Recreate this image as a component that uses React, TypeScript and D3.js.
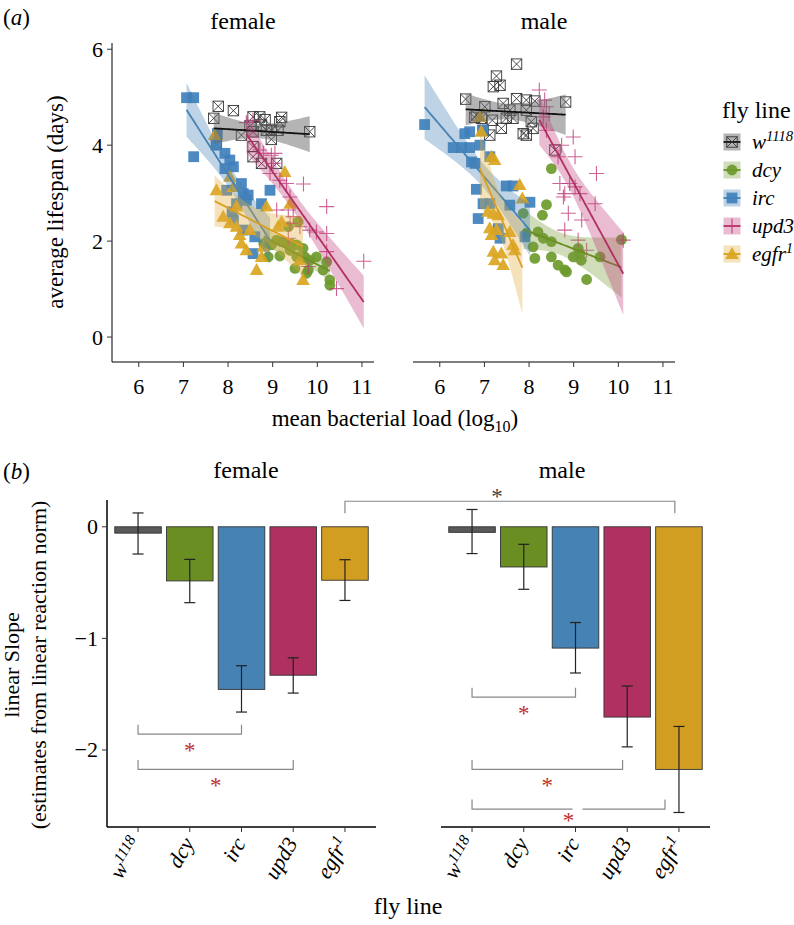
import React from "react";
import * as d3 from "d3";

const FONT = "Liberation Serif, DejaVu Serif, Noto Serif, serif";

// ---------- categories ----------
const flyLines = ["w1118", "dcy", "irc", "upd3", "egfr1"];

// ---------- panel (a): mean bacterial load (log10) vs average lifespan (days) ----------
const femaleW1118: [number, number][] = [
  [7.78, 4.81], [8.12, 4.72], [7.68, 4.56], [7.74, 4.02], [8.3, 4.21], [8.56, 4.59], [8.71, 4.59],
  [8.83, 4.53], [8.75, 4.42], [8.49, 4.4], [9.2, 4.58], [9.16, 4.49], [9.12, 4.31], [8.97, 4.31],
  [8.86, 4.31], [8.97, 4.12], [8.56, 3.97], [8.56, 3.76], [8.75, 3.62], [9.09, 3.62], [9.83, 4.28],
  [8.56, 4.28],
];
const femaleDcy: [number, number][] = [
  [8.8, 1.95], [8.9, 1.67], [9.16, 1.69], [9.2, 1.99], [9.31, 1.95], [9.42, 1.94], [9.54, 1.92],
  [9.57, 2.4], [9.68, 1.85], [9.54, 1.67], [9.72, 1.67], [9.83, 1.6], [9.98, 1.67], [9.5, 1.43],
  [9.76, 1.33], [10.28, 1.19], [10.28, 1.08], [10.13, 1.4], [10.21, 1.57], [9.35, 2.3], [9.09, 2.02],
  [8.97, 1.92], [9.8, 1.4], [9.39, 1.81],
];
const femaleIrc: [number, number][] = [
  [7.07, 4.99], [7.23, 4.99], [7.23, 3.76], [7.76, 4.24], [7.74, 4.0], [7.93, 3.83], [8.04, 3.69],
  [8.12, 3.55], [7.93, 3.51], [8.3, 3.2], [8.34, 2.99], [8.45, 2.96], [8.94, 3.06], [8.75, 2.78],
  [7.97, 3.06], [8.09, 2.61], [8.12, 2.44], [8.34, 2.23], [8.6, 2.09], [8.56, 1.74], [8.41, 2.85],
  [8.19, 2.78],
];
const femaleUpd3: [number, number][] = [
  [8.41, 4.47], [8.56, 4.52], [8.71, 3.9], [8.79, 3.83], [8.97, 3.79], [9.05, 3.83], [9.01, 3.62],
  [8.94, 3.41], [9.16, 3.27], [9.31, 3.2], [9.69, 3.19], [9.39, 2.92], [9.09, 2.65], [9.35, 2.65],
  [9.46, 2.51], [9.39, 2.37], [9.61, 2.3], [9.83, 2.23], [9.98, 2.19], [10.21, 2.16], [10.21, 2.72],
  [9.8, 1.47], [10.21, 1.78], [10.43, 1.01], [11.04, 1.58], [9.35, 2.06],
];
const femaleEgfr1: [number, number][] = [
  [7.7, 4.21], [9.27, 3.44], [7.74, 3.06], [8.04, 3.34], [8.12, 3.13], [7.89, 2.51], [8.04, 2.37],
  [8.19, 2.3], [8.3, 1.95], [8.41, 1.81], [8.26, 2.13], [8.64, 1.4], [8.75, 1.67], [8.86, 2.72],
  [9.12, 2.3], [9.2, 2.4], [9.39, 2.78], [9.68, 1.19], [9.61, 1.6], [8.79, 1.88], [8.49, 2.23],
  [8.19, 2.72],
];

const maleW1118: [number, number][] = [
  [7.72, 5.69], [7.27, 5.44], [7.35, 5.25], [7.2, 5.22], [6.58, 4.96], [7.01, 4.8], [6.82, 4.63],
  [6.93, 4.56], [6.78, 4.58], [6.97, 4.31], [7.12, 4.21], [7.18, 4.52], [7.42, 4.87], [7.49, 4.56],
  [7.57, 4.73], [7.72, 4.97], [7.94, 4.94], [8.13, 4.92], [7.94, 4.73], [7.38, 4.35], [8.05, 4.49],
  [8.09, 4.35], [7.94, 4.21], [7.87, 4.24], [8.58, 3.9], [8.82, 4.9], [7.64, 4.56],
];
const maleDcy: [number, number][] = [
  [8.5, 3.51], [8.39, 2.76], [8.3, 2.54], [7.87, 2.58], [7.94, 2.16], [8.2, 2.19], [8.32, 2.06],
  [8.5, 1.99], [8.09, 1.88], [8.13, 1.64], [8.5, 1.67], [8.65, 1.5], [8.8, 1.4], [8.84, 1.36],
  [8.99, 1.67], [9.1, 1.85], [9.17, 1.6], [9.29, 1.2], [9.59, 1.67], [10.07, 2.03], [9.14, 1.74],
];
const maleIrc: [number, number][] = [
  [5.66, 4.43], [6.56, 4.24], [6.67, 4.28], [6.97, 4.31], [6.3, 3.95], [6.49, 3.95], [6.67, 3.95],
  [6.9, 4.0], [6.71, 3.65], [6.79, 3.62], [7.12, 3.76], [6.82, 3.08], [7.49, 3.15], [7.64, 3.15],
  [6.97, 2.78], [7.12, 2.78], [7.57, 2.75], [8.02, 2.81], [6.86, 2.47], [7.31, 2.26], [7.35, 2.06],
  [7.91, 2.09],
];
const maleUpd3: [number, number][] = [
  [8.23, 5.15], [8.35, 4.94], [8.39, 4.8], [8.45, 4.66], [8.32, 4.59], [8.39, 4.31], [8.99, 4.17],
  [8.73, 4.0], [8.65, 3.76], [9.03, 3.76], [9.51, 3.41], [8.69, 3.2], [8.91, 3.2], [9.03, 3.13],
  [8.77, 2.92], [8.8, 2.99], [9.14, 2.99], [9.48, 2.78], [8.88, 2.58], [9.18, 2.44], [8.8, 2.23],
  [9.1, 2.02], [9.29, 1.81], [10.11, 2.02],
];
const maleEgfr1: [number, number][] = [
  [6.9, 4.59], [6.93, 4.28], [7.16, 3.76], [7.23, 3.69], [7.79, 3.17], [7.85, 2.89], [7.08, 2.61],
  [7.2, 2.57], [7.31, 2.54], [7.12, 2.27], [7.27, 2.23], [7.16, 2.13], [7.57, 2.19], [7.64, 1.92],
  [7.68, 1.81], [7.2, 1.78], [7.38, 1.74], [7.42, 1.5], [7.23, 1.6],
];

const xTicksA = [6, 7, 8, 9, 10, 11];
const yTicksA = [0, 2, 4, 6];

// ---------- panel (b): linear slope estimates (also the slopes of the reaction norms in (a)) ----------
const femaleSlope = [-0.057, -0.485, -1.457, -1.33, -0.479];
const femaleLower = [-0.244, -0.68, -1.66, -1.49, -0.66];
const femaleUpper = [0.124, -0.292, -1.245, -1.174, -0.295];
const maleSlope = [-0.05, -0.36, -1.087, -1.705, -2.174];
const maleLower = [-0.24, -0.56, -1.31, -1.972, -2.56];
const maleUpper = [0.155, -0.157, -0.858, -1.427, -1.789];
const yTicksB = [0, -1, -2];

// significance brackets (categories, bracket level on the slope axis)
const femaleBrackets = [
  { from: "w1118", to: "irc", level: -1.858, toShift: 0 },
  { from: "w1118", to: "upd3", level: -2.174, toShift: 0 },
];
const maleBrackets = [
  { from: "w1118", to: "irc", level: -1.527, toShift: 0 },
  { from: "w1118", to: "upd3", level: -2.174, toShift: -0.09 },
  { from: "w1118", to: "egfr1", level: -2.529, toShift: -0.27 },
];
const crossBracket = { level: 0.229, tip: 0.122, maleShift: -0.08 };

// ---------- styles ----------
const pointColors = ["#333333", "#6B9A2B", "#3F80BD", "#C23B7C", "#DAA520"];
const lineColors = ["#111111", "#6B8E23", "#4682B4", "#B03060", "#D9A021"];
const bandColors = ["#6a6a6a", "#7a9a3a", "#4682B4", "#C0407A", "#E3AC3A"];
const bandOpacity = [0.5, 0.35, 0.35, 0.35, 0.35];
const barColors = ["#595959", "#6B8E23", "#4682B4", "#B03060", "#D19E22"];

// ---------- helpers ----------
function tQuant(df: number) {
  const z = 1.959964;
  return (
    z +
    (z ** 3 + z) / (4 * df) +
    (5 * z ** 5 + 16 * z ** 3 + 3 * z) / (96 * df * df) +
    (3 * z ** 7 + 19 * z ** 5 + 17 * z ** 3 - 15 * z) / (384 * df ** 3)
  );
}

// linear reaction norm through the group centroid with the estimated slope, with a 95% band
function normFit(pts: [number, number][], b: number) {
  const n = pts.length;
  const xbar = d3.mean(pts, (p) => p[0]) as number;
  const ybar = d3.mean(pts, (p) => p[1]) as number;
  let sxx = 0;
  for (const [x] of pts) sxx += (x - xbar) ** 2;
  const a = ybar - b * xbar;
  let sse = 0;
  for (const [x, y] of pts) sse += (y - (a + b * x)) ** 2;
  const s = Math.sqrt(sse / (n - 2));
  const t = tQuant(n - 2);
  const [x0, x1] = d3.extent(pts, (p) => p[0]) as [number, number];
  return d3.range(0, 81).map((i) => {
    const x = x0 + ((x1 - x0) * i) / 80;
    const yh = a + b * x;
    const se = s * Math.sqrt(1 / n + (x - xbar) ** 2 / sxx);
    return { x, y: yh, lo: yh - t * se, hi: yh + t * se };
  });
}

function Marker({ kind, x, y, legend }: { kind: number; x: number; y: number; legend?: boolean }) {
  const c = pointColors[kind];
  if (kind === 0)
    return (
      <g stroke={c} strokeWidth={0.9} fill="none">
        <rect x={x - 5.2} y={y - 5.2} width={10.4} height={10.4} />
        <path d={`M${x - 5.2},${y - 5.2}L${x + 5.2},${y + 5.2}M${x + 5.2},${y - 5.2}L${x - 5.2},${y + 5.2}`} />
      </g>
    );
  if (kind === 1) return <circle cx={x} cy={y} r={5.4} fill={c} opacity={0.92} />;
  if (kind === 2) return <rect x={x - 5.4} y={y - 5.4} width={10.8} height={10.8} fill={c} opacity={0.92} />;
  if (kind === 3)
    return (
      <path d={`M${x - 7.5},${y}H${x + 7.5}M${x},${y - 7.5}V${y + 7.5}`} stroke={c} strokeWidth={1.1} opacity={legend ? 1 : 0.8} />
    );
  return <path d={`M${x},${y - 7}L${x + 6.8},${y + 5}L${x - 6.8},${y + 5}Z`} fill={c} opacity={0.92} />;
}

function FlyLabel({ name, sup }: { name: string; sup: number }) {
  if (name === "w1118")
    return (
      <>
        <tspan>w</tspan>
        <tspan dy={-sup} fontSize="0.7em">1118</tspan>
      </>
    );
  if (name === "egfr1")
    return (
      <>
        <tspan>egfr</tspan>
        <tspan dy={-sup} fontSize="0.7em">1</tspan>
      </>
    );
  return <tspan>{name}</tspan>;
}

// ---------- panel (a) ----------
const xDomainA: [number, number] = [5.4, 11.27];
const yA = d3.scaleLinear().domain([-0.52, 6.13]).range([362, 43]);

function ScatterPanel({ data, slopes, x0, x1, showY, title }: { data: [number, number][][]; slopes: number[]; x0: number; x1: number; showY: boolean; title: string }) {
  const x = d3.scaleLinear().domain(xDomainA).range([x0, x1]);
  const fits = data.map((d, i) => normFit(d, slopes[i]));
  const area = d3
    .area<{ x: number; lo: number; hi: number }>()
    .x((d) => x(d.x))
    .y0((d) => yA(d.lo))
    .y1((d) => yA(d.hi));
  const line = d3
    .line<{ x: number; y: number }>()
    .x((d) => x(d.x))
    .y((d) => yA(d.y));
  return (
    <g>
      <text x={(x0 + x1) / 2} y={29} textAnchor="middle" fontSize={24}>{title}</text>
      {data.map((grp, gi) => (
        <g key={"p" + gi}>
          {grp.map((p, i) => (
            <Marker key={i} kind={gi} x={x(p[0])} y={yA(p[1])} />
          ))}
        </g>
      ))}
      {fits.map((f, gi) => (
        <g key={"f" + gi}>
          <path d={area(f) || ""} fill={bandColors[gi]} opacity={bandOpacity[gi]} />
          <path d={line(f) || ""} fill="none" stroke={lineColors[gi]} strokeWidth={1.8} />
        </g>
      ))}
      {showY && (
        <g>
          <line x1={x0} x2={x0} y1={43} y2={362} stroke="#000" strokeWidth={1} />
          {yTicksA.map((t) => (
            <g key={t}>
              <line x1={x0 - 5} x2={x0} y1={yA(t)} y2={yA(t)} stroke="#333" />
              <text x={x0 - 9} y={yA(t) + 7.5} textAnchor="end" fontSize={22}>{t}</text>
            </g>
          ))}
        </g>
      )}
      <line x1={x0} x2={x1} y1={362} y2={362} stroke="#000" strokeWidth={1} />
      {xTicksA.map((t) => (
        <g key={t}>
          <line x1={x(t)} x2={x(t)} y1={362} y2={367} stroke="#333" />
          <text x={x(t)} y={394} textAnchor="middle" fontSize={22}>{t}</text>
        </g>
      ))}
    </g>
  );
}

// ---------- panel (b) ----------
const yB = d3.scaleLinear().domain([-2.69, 0.24]).range([827, 500]);

function BarPanel({ slope, lower, upper, x0, x1, showY, title, titleX, brackets, gapAt }: any) {
  const band = d3.scaleBand<string>().domain(flyLines).range([x0, x1]).paddingInner(0.1).paddingOuter(0.15);
  const cx = (k: string) => (band(k) as number) + band.bandwidth() / 2;
  const step = band.step();
  return (
    <g>
      <text x={titleX} y={478} textAnchor="middle" fontSize={24}>{title}</text>
      {flyLines.map((k, i) => {
        const top = Math.min(yB(0), yB(slope[i]));
        const h = Math.abs(yB(slope[i]) - yB(0));
        return (
          <rect key={k} x={band(k)} y={top} width={band.bandwidth()} height={h} fill={barColors[i]} stroke="#333" strokeWidth={0.9} />
        );
      })}
      {flyLines.map((k, i) => (
        <g key={"e" + k} stroke="#222" strokeWidth={1.2}>
          <line x1={cx(k)} x2={cx(k)} y1={yB(upper[i])} y2={yB(lower[i])} />
          <line x1={cx(k) - 5.5} x2={cx(k) + 5.5} y1={yB(upper[i])} y2={yB(upper[i])} />
          <line x1={cx(k) - 5.5} x2={cx(k) + 5.5} y1={yB(lower[i])} y2={yB(lower[i])} />
        </g>
      ))}
      {brackets.map((b: any, i: number) => {
        const xa = cx(b.from);
        const xb = cx(b.to) + b.toShift * step;
        const yl = yB(b.level);
        const yt = yB(b.level + 0.085);
        const mid = (xa + xb) / 2;
        return (
          <g key={"b" + i}>
            <path d={`M${xa},${yt}V${yl}H${xb}V${yt}`} fill="none" stroke="#888" strokeWidth={1.2} />
            {gapAt === i && <rect x={mid + 4} y={yl - 2} width={10} height={4} fill="#fff" />}
            <text x={mid} y={yl + (gapAt === i ? 19 : 24)} textAnchor="middle" fontSize={23} fill="#C0302A">*</text>
          </g>
        );
      })}
      {showY && (
        <g>
          <line x1={x0} x2={x0} y1={500} y2={827} stroke="#000" strokeWidth={1.5} />
          {yTicksB.map((t) => (
            <g key={t}>
              <line x1={x0 - 5} x2={x0} y1={yB(t)} y2={yB(t)} stroke="#333" />
              <text x={x0 - 9} y={yB(t) + 7.5} textAnchor="end" fontSize={22}>{t === 0 ? "0" : "\u2212" + Math.abs(t)}</text>
            </g>
          ))}
        </g>
      )}
      <line x1={x0} x2={x1} y1={827} y2={827} stroke="#000" strokeWidth={1.6} />
      {flyLines.map((k) => (
        <g key={"t" + k}>
          <line x1={cx(k)} x2={cx(k)} y1={827} y2={832} stroke="#333" />
          <text transform={`translate(${cx(k) + 5},${843}) rotate(-60)`} textAnchor="end" fontSize={22} fontStyle="italic">
            <FlyLabel name={k} sup={8} />
          </text>
        </g>
      ))}
    </g>
  );
}

export default function App() {
  const femaleData = [femaleW1118, femaleDcy, femaleIrc, femaleUpd3, femaleEgfr1];
  const maleData = [maleW1118, maleDcy, maleIrc, maleUpd3, maleEgfr1];

  const fB0 = 107, fB1 = 376, mB0 = 441, mB1 = 710;
  const bandF = d3.scaleBand<string>().domain(flyLines).range([fB0, fB1]).paddingInner(0.1).paddingOuter(0.15);
  const bandM = d3.scaleBand<string>().domain(flyLines).range([mB0, mB1]).paddingInner(0.1).paddingOuter(0.15);
  const cxF = (bandF("egfr1") as number) + bandF.bandwidth() / 2;
  const cxM = (bandM("egfr1") as number) + bandM.bandwidth() / 2 + crossBracket.maleShift * bandM.step();
  const cyL = yB(crossBracket.level);
  const cyT = yB(crossBracket.tip);

  return (
    <svg width={794} height={925} style={{ position: "absolute", left: 0, top: 0, background: "#fff", fontFamily: FONT }}>
      <rect width={794} height={925} fill="#fff" />
      {/* panel labels */}
      <text x={3} y={25} fontSize={23}>(<tspan fontStyle="italic">a</tspan>)</text>
      <text x={3} y={479} fontSize={23}>(<tspan fontStyle="italic">b</tspan>)</text>

      {/* panel (a) */}
      <text transform="translate(63,202) rotate(-90)" textAnchor="middle" fontSize={23}>average lifespan (days)</text>
      <ScatterPanel data={femaleData} slopes={femaleSlope} x0={112} x1={374} showY={true} title="female" />
      <ScatterPanel data={maleData} slopes={maleSlope} x0={413} x1={675} showY={false} title="male" />
      <text x={395} y={426} textAnchor="middle" fontSize={23}>
        mean bacterial load (log<tspan dy={6} fontSize={16}>10</tspan><tspan dy={-6}>)</tspan>
      </text>

      {/* legend */}
      <text x={722} y={118} fontSize={24}>fly line</text>
      {flyLines.map((k, i) => {
        const cy = 142 + i * 28;
        return (
          <g key={"lg" + k}>
            <rect x={723.5} y={cy - 8.5} width={17} height={17} fill={bandColors[i]} opacity={bandOpacity[i]} />
            <line x1={723.5} x2={740.5} y1={cy} y2={cy} stroke={lineColors[i]} strokeWidth={1.8} />
            <Marker kind={i} x={732} y={cy} legend={true} />
            <text x={752} y={cy + 7} fontSize={21} fontStyle="italic">
              <FlyLabel name={k} sup={8} />
            </text>
          </g>
        );
      })}

      {/* panel (b) */}
      <text transform="translate(19,665) rotate(-90)" textAnchor="middle" fontSize={22}>linear Slope</text>
      <text transform="translate(46,665) rotate(-90)" textAnchor="middle" fontSize={22}>(estimates from linear reaction norm)</text>
      <BarPanel slope={femaleSlope} lower={femaleLower} upper={femaleUpper} x0={fB0} x1={fB1} showY={true} title="female" titleX={246} brackets={femaleBrackets} gapAt={-1} />
      <BarPanel slope={maleSlope} lower={maleLower} upper={maleUpper} x0={mB0} x1={mB1} showY={false} title="male" titleX={562} brackets={maleBrackets} gapAt={2} />
      <path d={`M${cxF},${cyT}V${cyL}H${cxM}V${cyT}`} fill="none" stroke="#888" strokeWidth={1.2} />
      <text x={(cxF + cxM) / 2 - 13} y={cyL + 3} textAnchor="middle" fontSize={23} fill="#444">*</text>
      <text x={408} y={914} textAnchor="middle" fontSize={24}>fly line</text>
    </svg>
  );
}
